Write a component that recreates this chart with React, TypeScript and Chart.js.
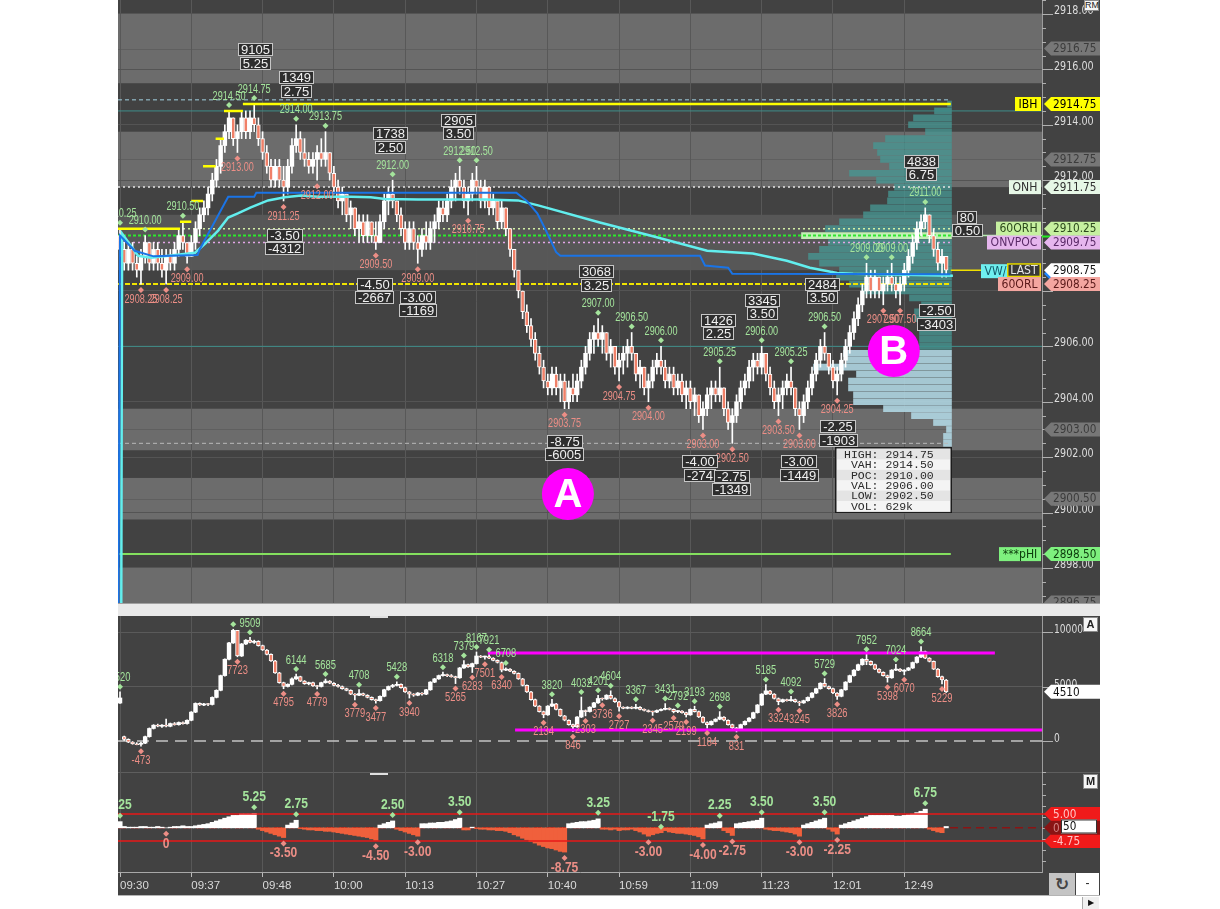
import React, { useEffect, useRef } from 'react';
import { Chart, registerables } from 'chart.js';

Chart.register(...registerables);

// ---------------- bar index axis ----------------
const X_MIN = -0.477;
const X_MAX = 219.84;
const SESSION_END = 198.1;
const timeLabels = ['09:30', '09:37', '09:48', '10:00', '10:13', '10:27', '10:40', '10:59', '11:09', '11:23', '12:01', '12:49'];
const timeTickIdx = [0, 17, 34, 51, 68, 85, 102, 119, 136, 153, 170, 187];

// ---------------- price panel ----------------
const PRICE_MIN = 2896.735;
const PRICE_MAX = 2918.505;
const priceTickValues = [2898, 2900, 2902, 2904, 2906, 2908, 2910, 2912, 2914, 2916, 2918];

// [open, high, low, close]
const priceBars = [
  [2910.00, 2910.25, 2909.25, 2909.50], [2909.50, 2909.75, 2908.75, 2909.00], [2909.00, 2909.75, 2908.75, 2909.50], [2909.50, 2909.75, 2908.75, 2909.00], [2909.00, 2909.25, 2908.50, 2908.75],
  [2908.75, 2909.50, 2908.25, 2909.25], [2909.25, 2910.00, 2909.00, 2909.75], [2909.75, 2909.75, 2908.75, 2909.00], [2909.00, 2909.75, 2908.75, 2909.50], [2909.50, 2909.75, 2908.75, 2909.00],
  // 10
  [2909.00, 2909.50, 2908.50, 2908.75], [2908.75, 2909.50, 2908.25, 2909.25], [2909.25, 2909.50, 2908.75, 2909.00], [2909.00, 2909.75, 2908.75, 2909.50], [2909.50, 2910.25, 2909.25, 2910.00],
  [2910.00, 2910.50, 2909.50, 2909.75], [2909.75, 2909.75, 2909.00, 2909.25], [2909.25, 2910.00, 2909.25, 2909.75], [2909.75, 2910.50, 2909.50, 2910.25], [2910.25, 2911.00, 2910.00, 2910.75],
  // 20
  [2910.75, 2911.25, 2910.50, 2911.00], [2911.00, 2911.75, 2910.75, 2911.50], [2911.50, 2912.25, 2911.25, 2912.00], [2912.00, 2912.75, 2911.75, 2912.50], [2912.50, 2913.50, 2912.25, 2913.25],
  [2913.25, 2914.00, 2913.00, 2913.75], [2913.75, 2914.50, 2913.50, 2914.25], [2914.25, 2914.25, 2913.25, 2913.50], [2913.50, 2914.00, 2913.00, 2913.75], [2913.75, 2914.50, 2913.50, 2914.25],
  // 30
  [2914.25, 2914.50, 2913.50, 2913.75], [2913.75, 2914.50, 2913.50, 2914.25], [2914.25, 2914.75, 2913.75, 2914.00], [2914.00, 2914.25, 2913.25, 2913.50], [2913.50, 2913.75, 2912.75, 2913.00],
  [2913.00, 2913.25, 2912.25, 2912.50], [2912.50, 2912.75, 2911.75, 2912.00], [2912.00, 2912.75, 2911.75, 2912.50], [2912.50, 2912.75, 2911.75, 2912.00], [2912.00, 2912.50, 2911.25, 2911.75],
  // 40
  [2911.75, 2912.75, 2911.50, 2912.50], [2912.50, 2913.50, 2912.25, 2913.25], [2913.25, 2914.00, 2913.00, 2913.50], [2913.50, 2913.75, 2912.75, 2913.00], [2913.00, 2913.50, 2912.50, 2912.75],
  [2912.75, 2913.00, 2912.25, 2912.50], [2912.50, 2913.00, 2912.25, 2912.75], [2912.75, 2913.25, 2912.00, 2913.00], [2913.00, 2913.50, 2912.50, 2912.75], [2912.75, 2913.75, 2912.50, 2913.00],
  // 50
  [2913.00, 2913.00, 2912.00, 2912.25], [2912.25, 2912.50, 2911.50, 2911.75], [2911.75, 2912.00, 2911.00, 2911.25], [2911.25, 2911.75, 2910.75, 2911.50], [2911.50, 2911.50, 2910.50, 2910.75],
  [2910.75, 2911.25, 2910.25, 2911.00], [2911.00, 2911.00, 2910.00, 2910.25], [2910.25, 2910.75, 2909.75, 2910.50], [2910.50, 2910.75, 2909.75, 2910.00], [2910.00, 2910.75, 2909.75, 2910.50],
  // 60
  [2910.50, 2910.50, 2909.75, 2910.00], [2910.00, 2910.50, 2909.50, 2909.75], [2909.75, 2910.75, 2909.75, 2910.50], [2910.50, 2911.50, 2910.25, 2911.25], [2911.25, 2911.75, 2910.75, 2911.50],
  [2911.50, 2912.00, 2911.00, 2911.25], [2911.25, 2911.25, 2910.50, 2910.75], [2910.75, 2911.00, 2910.00, 2910.25], [2910.25, 2910.50, 2909.50, 2909.75], [2909.75, 2910.50, 2909.50, 2910.25],
  // 70
  [2910.25, 2910.50, 2909.50, 2909.75], [2909.75, 2910.00, 2909.00, 2909.50], [2909.50, 2910.25, 2909.25, 2910.00], [2910.00, 2910.50, 2909.50, 2909.75], [2909.75, 2910.50, 2909.50, 2910.25],
  [2910.25, 2910.75, 2909.75, 2910.50], [2910.50, 2911.25, 2910.25, 2911.00], [2911.00, 2911.25, 2910.50, 2910.75], [2910.75, 2911.50, 2910.50, 2911.25], [2911.25, 2912.00, 2911.00, 2911.75],
  // 80
  [2911.75, 2912.25, 2911.25, 2912.00], [2912.00, 2912.50, 2911.50, 2911.75], [2911.75, 2912.00, 2911.00, 2911.25], [2911.25, 2911.75, 2910.75, 2911.50], [2911.50, 2912.25, 2911.25, 2912.00],
  [2912.00, 2912.50, 2911.50, 2911.75], [2911.75, 2912.00, 2911.00, 2911.25], [2911.25, 2912.00, 2911.00, 2911.75], [2911.75, 2911.75, 2910.75, 2911.00], [2911.00, 2911.50, 2910.75, 2911.25],
  // 90
  [2911.25, 2911.25, 2910.25, 2910.50], [2910.50, 2911.25, 2910.25, 2911.00], [2911.00, 2911.00, 2910.00, 2910.25], [2910.25, 2910.25, 2909.25, 2909.50], [2909.50, 2909.50, 2908.50, 2908.75],
  [2908.75, 2908.75, 2907.75, 2908.00], [2908.00, 2908.00, 2907.00, 2907.25], [2907.25, 2907.50, 2906.50, 2906.75], [2906.75, 2907.00, 2906.00, 2906.25], [2906.25, 2906.50, 2905.50, 2905.75],
  // 100
  [2905.75, 2906.00, 2905.00, 2905.25], [2905.25, 2905.50, 2904.50, 2904.75], [2904.75, 2905.00, 2904.25, 2904.50], [2904.50, 2905.25, 2904.25, 2905.00], [2905.00, 2905.25, 2904.25, 2904.50],
  [2904.50, 2905.00, 2904.00, 2904.75], [2904.75, 2905.00, 2903.75, 2904.00], [2904.00, 2904.75, 2903.75, 2904.50], [2904.50, 2905.00, 2904.00, 2904.25], [2904.25, 2905.00, 2904.00, 2904.75],
  // 110
  [2904.75, 2905.50, 2904.50, 2905.25], [2905.25, 2906.00, 2905.00, 2905.75], [2905.75, 2906.50, 2905.50, 2906.25], [2906.25, 2906.75, 2905.75, 2906.50], [2906.50, 2907.00, 2906.00, 2906.25],
  [2906.25, 2906.75, 2905.75, 2906.50], [2906.50, 2906.50, 2905.50, 2905.75], [2905.75, 2906.25, 2905.25, 2906.00], [2906.00, 2906.00, 2905.00, 2905.25], [2905.25, 2905.75, 2904.75, 2905.50],
  // 120
  [2905.50, 2906.00, 2905.00, 2905.75], [2905.75, 2906.25, 2905.25, 2906.00], [2906.00, 2906.50, 2905.50, 2905.75], [2905.75, 2905.75, 2904.75, 2905.00], [2905.00, 2905.50, 2904.50, 2905.25],
  [2905.25, 2905.25, 2904.25, 2904.50], [2904.50, 2905.00, 2904.00, 2904.75], [2904.75, 2905.50, 2904.50, 2905.25], [2905.25, 2905.75, 2905.00, 2905.50], [2905.50, 2906.00, 2905.00, 2905.25],
  // 130
  [2905.25, 2905.50, 2904.50, 2904.75], [2904.75, 2905.25, 2904.50, 2905.00], [2905.00, 2905.25, 2904.25, 2904.50], [2904.50, 2905.00, 2904.25, 2904.75], [2904.75, 2905.00, 2904.00, 2904.25],
  [2904.25, 2904.75, 2903.75, 2904.50], [2904.50, 2904.75, 2903.75, 2904.00], [2904.00, 2904.50, 2903.50, 2904.25], [2904.25, 2904.25, 2903.25, 2903.50], [2903.50, 2904.00, 2903.00, 2903.75],
  // 140
  [2903.75, 2904.50, 2903.50, 2904.25], [2904.25, 2904.75, 2903.75, 2904.50], [2904.50, 2904.75, 2904.00, 2904.25], [2904.25, 2905.25, 2904.00, 2904.50], [2904.50, 2904.50, 2903.50, 2903.75],
  [2903.75, 2904.00, 2903.00, 2903.25], [2903.25, 2903.75, 2902.50, 2903.50], [2903.50, 2904.25, 2903.25, 2904.00], [2904.00, 2904.75, 2903.75, 2904.50], [2904.50, 2905.00, 2904.25, 2904.75],
  // 150
  [2904.75, 2905.50, 2904.50, 2905.25], [2905.25, 2905.75, 2904.75, 2905.50], [2905.50, 2905.75, 2905.00, 2905.25], [2905.25, 2906.00, 2905.00, 2905.75], [2905.75, 2905.75, 2904.75, 2905.00],
  [2905.00, 2905.25, 2904.25, 2904.50], [2904.50, 2904.75, 2903.75, 2904.00], [2904.00, 2904.50, 2903.50, 2904.25], [2904.25, 2904.75, 2903.75, 2904.50], [2904.50, 2905.00, 2904.25, 2904.75],
  // 160
  [2904.75, 2905.25, 2904.25, 2904.50], [2904.50, 2904.50, 2903.50, 2903.75], [2903.75, 2904.00, 2903.00, 2903.50], [2903.50, 2904.25, 2903.25, 2904.00], [2904.00, 2904.75, 2903.75, 2904.50],
  [2904.50, 2905.25, 2904.25, 2905.00], [2905.00, 2905.75, 2904.75, 2905.50], [2905.50, 2906.25, 2905.25, 2906.00], [2906.00, 2906.50, 2905.50, 2905.75], [2905.75, 2905.75, 2905.00, 2905.25],
  // 170
  [2905.25, 2905.50, 2904.50, 2904.75], [2904.75, 2905.25, 2904.25, 2905.00], [2905.00, 2905.75, 2904.75, 2905.50], [2905.50, 2906.25, 2905.25, 2906.00], [2906.00, 2906.75, 2905.75, 2906.50],
  [2906.50, 2907.25, 2906.25, 2907.00], [2907.00, 2907.75, 2906.75, 2907.50], [2907.50, 2908.25, 2907.25, 2908.00], [2908.00, 2909.00, 2907.75, 2908.50], [2908.50, 2908.75, 2907.75, 2908.00],
  // 180
  [2908.00, 2908.75, 2907.75, 2908.50], [2908.50, 2908.50, 2907.75, 2908.00], [2908.00, 2908.50, 2907.50, 2908.25], [2908.25, 2908.75, 2908.00, 2908.50], [2908.50, 2909.00, 2908.00, 2908.25],
  [2908.25, 2908.50, 2907.75, 2908.00], [2908.00, 2908.50, 2907.50, 2908.25], [2908.25, 2909.00, 2908.00, 2908.75], [2908.75, 2909.50, 2908.50, 2909.25], [2909.25, 2910.00, 2909.00, 2909.75],
  // 190
  [2909.75, 2910.50, 2909.50, 2910.25], [2910.25, 2910.75, 2910.00, 2910.50], [2910.50, 2911.00, 2910.25, 2910.75], [2910.75, 2910.75, 2909.75, 2910.00], [2910.00, 2910.25, 2909.25, 2909.50],
  [2909.50, 2909.75, 2908.75, 2909.00], [2909.00, 2909.50, 2908.50, 2909.25], [2909.25, 2909.25, 2908.50, 2908.75],
];

// swing labels [bar, price, H/L]
const priceSwings: any[] = [
  [0, 2910.25, 'H'], [5, 2908.25, 'L'], [6, 2910.0, 'H'], [11, 2908.25, 'L'], [15, 2910.5, 'H'], [16, 2909.0, 'L'],
  [26, 2914.5, 'H'], [28, 2913.0, 'L'], [32, 2914.75, 'H'], [39, 2911.25, 'L'], [42, 2914.0, 'H'], [47, 2912.0, 'L'],
  [49, 2913.75, 'H'], [61, 2909.5, 'L'], [65, 2912.0, 'H'], [71, 2909.0, 'L'], [81, 2912.5, 'H'], [83, 2910.75, 'L'],
  [85, 2912.5, 'H'], [106, 2903.75, 'L'], [114, 2907.0, 'H'], [119, 2904.75, 'L'], [122, 2906.5, 'H'], [126, 2904.0, 'L'],
  [129, 2906.0, 'H'], [139, 2903.0, 'L'], [143, 2905.25, 'H'], [146, 2902.5, 'L'], [153, 2906.0, 'H'], [157, 2903.5, 'L'],
  [160, 2905.25, 'H'], [162, 2903.0, 'L'], [168, 2906.5, 'H'], [171, 2904.25, 'L'], [178, 2909.0, 'H'], [182, 2907.5, 'L'],
  [184, 2909.0, 'H'], [186, 2907.5, 'L'], [192, 2911.0, 'H'],
];

// leg boxes [bar, price, first text, second text]
const priceBoxes: any[] = [
  [32.4, 2916.70, '9105', '5.25'], [42, 2915.69, '1349', '2.75'], [64.6, 2913.67, '1738', '2.50'], [80.8, 2914.17, '2905', '3.50'],
  [39.3, 2910.02, '-3.50', '-4312'], [60.8, 2908.25, '-4.50', '-2667'], [71, 2907.78, '-3.00', '-1169'], [113.7, 2908.69, '3068', '3.25'],
  [106.1, 2902.58, '-8.75', '-6005'], [142.8, 2906.95, '1426', '2.25'], [153.3, 2907.67, '3345', '3.50'], [138.3, 2901.83, '-4.00', '-274'],
  [145.9, 2901.32, '-2.75', '-1349'], [161.9, 2901.83, '-3.00', '-1449'], [167.6, 2908.25, '2484', '3.50'], [171.2, 2903.09, '-2.25', '-1903'],
  [194.8, 2907.28, '-2.50', '-3403'], [191.2, 2912.69, '4838', '6.75'], [202, 2910.67, '80', '0.50'],
];

const statsAnchor = [170.5, 2902.37];
const statsRows = ['HIGH: 2914.75', ' VAH: 2914.50', ' POC: 2910.00', ' VAL: 2906.00', ' LOW: 2902.50', ' VOL: 629k'];
const circleMarks: any[] = [[106.8, 2900.67, 'A'], [184.5, 2905.83, 'B']];

// running initial-balance high [from bar, to bar, price]
const ibhSteps = [[X_MIN, 14.3, 2910.25], [14.3, 17.0, 2910.5], [17.0, 19.8, 2911.25], [19.8, 22.8, 2912.5], [22.8, 24.8, 2913.5], [24.8, 29.3, 2914.5], [29.3, SESSION_END, 2914.75]];

// VWAP lines [bar, price]
const vwapBlue = [
  [-0.45, 2893], [0, 2910.0], [3.5, 2909.45], [8, 2909.25], [18.5, 2909.3], [19, 2909.5], [25.8, 2911.4], [32, 2911.4], [32.5, 2911.55],
  [94.5, 2911.55], [97, 2911.25], [99.5, 2910.8], [101.5, 2910.2], [104, 2909.4], [105, 2909.27], [138.3, 2909.27], [139.5, 2908.92],
  [145, 2908.84], [146, 2908.62], [198, 2908.6],
];
const vwapCyan = [
  [0.25, 2893], [0.5, 2910.07], [4.3, 2909.27], [7.4, 2909.2], [17.9, 2909.38], [20.3, 2909.71], [23.4, 2910.18], [25.8, 2910.65],
  [28.1, 2910.8], [31.2, 2911.02], [35.3, 2911.27], [39.3, 2911.38], [43.2, 2911.45], [47.2, 2911.4], [55.1, 2911.4], [59.8, 2911.38],
  [63.2, 2911.32], [71.1, 2911.3], [78.9, 2911.3], [87, 2911.3], [94.9, 2911.27], [99.7, 2911.09], [114.4, 2910.47], [126.4, 2910.0],
  [140, 2909.45], [150.9, 2909.35], [159, 2909.09], [164.5, 2908.84], [171, 2908.65], [174.8, 2908.62], [198.6, 2908.55],
];

const levels = {
  profileTop: 2914.9, VAH: 2914.5, ONH: 2911.75, ORH60: 2910.25, POC: 2910.0, ONVPOC: 2909.75,
  LAST: 2908.75, ORL60: 2908.25, VAL: 2906.0, LOW: 2902.5, PHI: 2898.5,
};

// reference zones [low, high, centre]
const zones = [[2915.5, 2918.0, 2916.75], [2911.75, 2913.75, 2912.75], [2902.25, 2903.75, 2903.0], [2899.75, 2901.25, 2900.5], [2895.5, 2898.0, 2896.75]];
const onvpocZone = [2908.75, 2910.75];

// volume profile
const profilePrices = [
  2914.75, 2914.5, 2914.25, 2914.0, 2913.75, 2913.5, 2913.25, 2913.0, 2912.75, 2912.5,
  2912.25, 2912.0, 2911.75, 2911.5, 2911.25, 2911.0, 2910.75, 2910.5, 2910.25, 2910.0,
  2909.75, 2909.5, 2909.25, 2909.0, 2908.75, 2908.5, 2908.25, 2908.0, 2907.75, 2907.5,
  2907.25, 2907.0, 2906.75, 2906.5, 2906.25, 2906.0, 2905.75, 2905.5, 2905.25, 2905.0,
  2904.75, 2904.5, 2904.25, 2904.0, 2903.75, 2903.5, 2903.25, 2903.0, 2902.75, 2902.5,
];
const profileVolumes = [
  800, 3400, 7600, 8600, 5200, 13200, 15600, 14800, 14200, 12400,
  20400, 15000, 11400, 12600, 12800, 16200, 17600, 22400, 25200, 30000,
  24600, 26400, 28600, 26400, 22400, 23000, 20400, 18000, 8400, 6000,
  7400, 7400, 6400, 6400, 6400, 6400, 21600, 21000, 27600, 19000,
  20600, 20600, 19600, 19600, 13600, 8000, 3600, 1000, 1600, 1600,
];

const priceBadgeValues = [2916.75, 2914.75, 2912.75, 2911.75, 2910.25, 2909.75, 2908.62, 2908.75, 2908.25, 2903.0, 2900.5, 2898.5, 2896.75];
const priceBadgeKinds = ['ref', 'IBH', 'ref', 'ONH', '60ORH', 'ONVPOC', 'VWAP', 'LAST', '60ORL', 'ref', 'ref', '***pHI', 'ref'];

// ---------------- cumulative delta panel ----------------
const DELTA_MIN = -2844;
const DELTA_MAX = 11468;
const deltaTickValues = [0, 5000, 10000];
const deltaBars = [
  [3480, 4520, 3450, 3950], [400, 450, 50, 150], [150, 200, -150, -100], [-100, -50, -300, -250], [-250, -150, -350, -300],
  [-300, -100, -473, -200], [-200, 450, -250, 400], [400, 1200, 350, 1150], [1150, 1500, 1100, 1450], [1450, 1550, 1300, 1350],
  // 10
  [1350, 1500, 1250, 1450], [1450, 2000, 1300, 1350], [1350, 1650, 1300, 1600], [1600, 1700, 1450, 1500], [1500, 1750, 1450, 1700],
  [1700, 1750, 1550, 1600], [1600, 1950, 1550, 1900], [1900, 2700, 1850, 2650], [2650, 3500, 2600, 3450], [3450, 3500, 3250, 3300],
  // 20
  [3300, 3450, 3250, 3400], [3400, 3450, 3250, 3350], [3350, 4050, 3300, 4000], [4000, 4700, 3950, 4650], [4650, 6050, 4600, 6000],
  [6000, 7550, 5950, 7500], [7500, 9050, 7450, 9000], [9000, 10254, 8950, 10150], [10150, 10150, 7723, 7800], [7800, 8950, 7750, 8900],
  // 30
  [8900, 9300, 8850, 9250], [9250, 9509, 9000, 9050], [9050, 9250, 8950, 9150], [9150, 9200, 8700, 8750], [8750, 8800, 8300, 8350],
  [8350, 8400, 7900, 7950], [7950, 8000, 7300, 7350], [7350, 7400, 6200, 6250], [6250, 6300, 5300, 5350], [5350, 5400, 4795, 5000],
  // 40
  [5000, 5250, 4950, 5200], [5200, 5800, 5150, 5700], [5700, 6144, 5650, 5900], [5900, 5950, 5450, 5500], [5500, 5550, 5200, 5250],
  [5250, 5400, 5150, 5350], [5350, 5400, 5000, 5050], [5050, 5100, 4779, 5000], [5000, 5400, 4950, 5350], [5350, 5685, 5300, 5500],
  // 50
  [5500, 5550, 5250, 5300], [5300, 5350, 5050, 5100], [5100, 5200, 4950, 5000], [5000, 5050, 4750, 4800], [4800, 4850, 4600, 4650],
  [4650, 4700, 4250, 4300], [4300, 4350, 3779, 4200], [4200, 4708, 4150, 4350], [4350, 4400, 4150, 4200], [4200, 4250, 3950, 4000],
  // 60
  [4000, 4050, 3750, 3800], [3800, 3850, 3477, 3700], [3700, 4150, 3650, 4100], [4100, 4750, 4050, 4700], [4700, 5050, 4650, 5000],
  [5000, 5200, 4900, 5100], [5100, 5428, 5050, 5200], [5200, 5250, 4850, 4900], [4900, 4950, 4450, 4500], [4500, 4550, 3940, 4300],
  // 70
  [4300, 4350, 4100, 4200], [4200, 4450, 4150, 4400], [4400, 4450, 4200, 4300], [4300, 4750, 4250, 4700], [4700, 5450, 4650, 5400],
  [5400, 5750, 5350, 5700], [5700, 6050, 5650, 6000], [6000, 6318, 5950, 6100], [6100, 6150, 5900, 6000], [6000, 6100, 5850, 5900],
  // 80
  [5900, 5950, 5265, 5800], [5800, 6750, 5750, 6700], [6700, 7379, 6650, 7000], [7000, 7050, 6750, 6800], [6800, 7150, 6283, 7100],
  [7100, 8167, 7050, 7800], [7800, 7850, 7650, 7700], [7700, 7800, 7501, 7750], [7750, 7921, 7550, 7600], [7600, 7650, 7350, 7400],
  // 90
  [7400, 7450, 7150, 7200], [7200, 7250, 6340, 6500], [6500, 6708, 6450, 6600], [6600, 6650, 6350, 6400], [6400, 6450, 6150, 6200],
  [6200, 6250, 5650, 5700], [5700, 5750, 5050, 5100], [5100, 5150, 4450, 4500], [4500, 4550, 3750, 3800], [3800, 3850, 3150, 3200],
  // 100
  [3200, 3250, 2650, 2700], [2700, 2750, 2134, 2400], [2400, 3250, 2350, 3200], [3200, 3820, 3150, 3400], [3400, 3450, 2850, 2900],
  [2900, 2950, 2250, 2300], [2300, 2350, 1850, 1900], [1900, 1950, 1450, 1500], [1500, 1550, 846, 1300], [1300, 2250, 1250, 2200],
  // 110
  [2200, 4032, 2150, 2800], [2800, 2850, 2303, 2700], [2700, 3150, 2650, 3100], [3100, 3550, 3050, 3500], [3500, 4201, 3450, 3900],
  [3900, 3950, 3736, 3850], [3850, 4250, 3800, 4200], [4200, 4604, 3850, 3900], [3900, 3950, 3550, 3600], [3600, 3650, 2727, 3100],
  // 120
  [3100, 3150, 2950, 3000], [3000, 3150, 2950, 3100], [3100, 3150, 2950, 3000], [3000, 3367, 2950, 3100], [3100, 3150, 2850, 2900],
  [2900, 2950, 2750, 2800], [2800, 2850, 2650, 2700], [2700, 2750, 2345, 2650], [2650, 2850, 2600, 2800], [2800, 2950, 2750, 2900],
  // 130
  [2900, 3431, 2850, 3000], [3000, 3050, 2850, 2900], [2900, 2950, 2579, 2700], [2700, 2792, 2600, 2750], [2750, 2800, 2550, 2600],
  [2600, 2650, 2199, 2400], [2400, 2950, 2350, 2900], [2900, 3193, 2650, 2700], [2700, 2750, 2150, 2200], [2200, 2250, 1650, 1700],
  // 140
  [1700, 1750, 1184, 1500], [1500, 1850, 1450, 1800], [1800, 2050, 1750, 2000], [2000, 2698, 1950, 2200], [2200, 2250, 1850, 1900],
  [1900, 1950, 1450, 1500], [1500, 1550, 1150, 1200], [1200, 1250, 831, 1100], [1100, 1550, 1050, 1500], [1500, 1850, 1450, 1800],
  // 150
  [1800, 2150, 1750, 2100], [2100, 2650, 2050, 2600], [2600, 3350, 2550, 3300], [3300, 4350, 3250, 4300], [4300, 5185, 4250, 4600],
  [4600, 4650, 4250, 4300], [4300, 4350, 3850, 3900], [3900, 3950, 3324, 3600], [3600, 3850, 3550, 3800], [3800, 3850, 3650, 3700],
  // 160
  [3700, 4092, 3650, 3800], [3800, 3850, 3550, 3600], [3600, 3650, 3245, 3500], [3500, 3750, 3450, 3700], [3700, 4050, 3650, 4000],
  [4000, 4450, 3950, 4400], [4400, 4850, 4350, 4800], [4800, 5350, 4750, 5300], [5300, 5729, 4950, 5000], [5000, 5050, 4750, 4800],
  // 170
  [4800, 4850, 4350, 4400], [4400, 4450, 3826, 4100], [4100, 4750, 4050, 4700], [4700, 5450, 4650, 5400], [5400, 6050, 5350, 6000],
  [6000, 6550, 5950, 6500], [6500, 7050, 6450, 7000], [7000, 7550, 6950, 7500], [7500, 7952, 7000, 7300], [7300, 7350, 6950, 7000],
  // 180
  [7000, 7050, 6550, 6600], [6600, 6650, 6250, 6300], [6300, 6350, 5950, 6000], [6000, 6050, 5398, 5800], [5800, 6550, 5750, 6500],
  [6500, 7024, 6450, 6600], [6600, 6650, 6350, 6400], [6400, 6550, 6070, 6500], [6500, 6750, 6450, 6700], [6700, 7250, 6650, 7200],
  // 190
  [7200, 7750, 7150, 7700], [7700, 8664, 7650, 8200], [8200, 8250, 7550, 7600], [7600, 7650, 7250, 7300], [7300, 7350, 6550, 6600],
  [6600, 6650, 5850, 5900], [5900, 5950, 5229, 5600], [5600, 5650, 4450, 4510],
];
const deltaSwings: any[] = [
  [0, 4520, 'H'], [5, -473, 'L'], [27, 10254, 'H'], [28, 7723, 'L'], [31, 9509, 'H'], [39, 4795, 'L'], [42, 6144, 'H'], [47, 4779, 'L'],
  [49, 5685, 'H'], [56, 3779, 'L'], [57, 4708, 'H'], [61, 3477, 'L'], [66, 5428, 'H'], [69, 3940, 'L'], [77, 6318, 'H'], [80, 5265, 'L'],
  [82, 7379, 'H'], [84, 6283, 'L'], [85, 8167, 'H'], [87, 7501, 'L'], [88, 7921, 'H'], [91, 6340, 'L'], [92, 6708, 'H'], [101, 2134, 'L'],
  [103, 3820, 'H'], [108, 846, 'L'], [110, 4032, 'H'], [111, 2303, 'L'], [114, 4201, 'H'], [115, 3736, 'L'], [117, 4604, 'H'], [119, 2727, 'L'],
  [123, 3367, 'H'], [127, 2345, 'L'], [130, 3431, 'H'], [132, 2579, 'L'], [133, 2792, 'H'], [135, 2199, 'L'], [137, 3193, 'H'], [140, 1184, 'L'],
  [143, 2698, 'H'], [147, 831, 'L'], [154, 5185, 'H'], [157, 3324, 'L'], [160, 4092, 'H'], [162, 3245, 'L'], [168, 5729, 'H'], [171, 3826, 'L'],
  [178, 7952, 'H'], [183, 5398, 'L'], [185, 7024, 'H'], [187, 6070, 'L'], [191, 8664, 'H'], [196, 5229, 'L'],
];
const deltaChannel = [[87.7, 208.6, 8073], [94.2, 220.5, 1009]];
const deltaLast = 4510;

// ---------------- swing leg panel ----------------
const LEG_MIN = -15.94;
const LEG_MAX = 20.17;
const legLimits = [5.0, -4.75];
const swingLegs = [
  2.25, 0.5, 0.25, 0.25, 0.25, 0.5, 0.5, 0.25, 0.25, 0.5,
  0.25, 0, 0.25, 0.5, 0.5, 0.75, 0.5, 0.5, 0.75, 1.0,
  1.25, 1.5, 2.0, 2.5, 3.0, 3.5, 4.0, 4.5, 4.5, 5.0,
  5.0, 5.0, 5.25, -0.5, -1.0, -1.5, -2.0, -2.5, -3.0, -3.5,
  1.0, 1.75, 2.75, -0.25, -0.5, -0.75, -0.75, -1.0, -1.0, -1.25,
  -1.25, -1.5, -1.75, -2.0, -2.25, -2.5, -2.75, -3.0, -3.25, -3.5,
  -4.0, -4.5, 1.0, 1.5, 2.0, 2.5, -0.5, -1.0, -1.5, -2.0,
  -2.5, -3.0, 1.5, 1.5, 1.75, 1.75, 2.0, 2.0, 2.25, 2.5,
  3.0, 3.5, -0.75, -0.75, 0.25, -0.25, -0.5, -0.5, -0.75, -0.75,
  -1.0, -1.0, -1.25, -1.75, -2.5, -3.0, -3.75, -4.25, -5.0, -5.5,
  -6.25, -6.75, -7.25, -7.5, -8.0, -8.5, -8.75, 1.5, 1.75, 2.0,
  2.25, 2.25, 2.5, 2.75, 3.25, -0.5, -0.5, -0.75, -0.5, -1.0,
  -0.75, -0.75, -0.5, -1.0, -1.5, -2.25, -3.0, -2.5, -2.0, -1.75,
  -1.0, -1.5, -1.75, -2.0, -2.0, -2.25, -2.5, -2.75, -3.25, -4.0,
  1.0, 1.5, 1.75, 2.25, -1.0, -1.75, -2.75, 1.5, 1.75, 2.0,
  2.25, 2.5, 2.75, 3.5, -0.5, -0.75, -1.0, -1.0, -1.25, -1.5,
  -1.75, -2.25, -3.0, 1.0, 1.5, 2.0, 2.5, 3.0, 3.5, -0.5,
  -1.25, -2.25, 1.0, 1.5, 2.0, 2.5, 3.0, 3.5, 4.0, 4.5,
  4.5, 4.5, 4.5, 4.5, 4.5, 4.25, 4.25, 4.5, 4.75, 5.0,
  5.5, 6.0, 6.75, -0.5, -1.0, -1.5, -1.75, 0.5,
];
const legSwings: any[] = [
  [0, 2.25, 'H'], [11, 0, 'L'], [32, 5.25, 'H'], [39, -3.5, 'L'], [42, 2.75, 'H'], [61, -4.5, 'L'], [65, 2.5, 'H'], [71, -3.0, 'L'],
  [81, 3.5, 'H'], [106, -8.75, 'L'], [114, 3.25, 'H'], [126, -3.0, 'L'], [129, -1.75, 'H'], [139, -4.0, 'L'], [143, 2.25, 'H'],
  [146, -2.75, 'L'], [153, 3.5, 'H'], [162, -3.0, 'L'], [168, 3.5, 'H'], [171, -2.25, 'L'], [192, 6.75, 'H'],
];
const legLast = 0.5;

// ---------------- drawing helpers ----------------
const SANS = '"Liberation Sans", Arial, sans-serif';
const DEJA = '"DejaVu Sans", Verdana, sans-serif';
const MONO = '"Liberation Mono", "DejaVu Sans Mono", monospace';
const HI = '#a4e49c';
const LO = '#ec8e86';
const GRID = '#585858';

function drawText(ctx: any, s: string, x: number, y: number, font: string, color: string, align = 'left', sx = 1) {
  ctx.save();
  ctx.font = font;
  ctx.fillStyle = color;
  ctx.textAlign = align;
  ctx.textBaseline = 'middle';
  ctx.translate(x, y);
  ctx.scale(sx, 1);
  ctx.fillText(s, 0, 0);
  ctx.restore();
}
function diamond(ctx: any, x: number, y: number, r: number, color: string) {
  ctx.fillStyle = color;
  ctx.beginPath();
  ctx.moveTo(x, y - r); ctx.lineTo(x + r, y); ctx.lineTo(x, y + r); ctx.lineTo(x - r, y);
  ctx.closePath();
  ctx.fill();
}
function drawSwings(ctx: any, ca: any, xs: any, ys: any, swings: any[], fmt: (v: number) => string, font: string, sx: number, dOff: number, tOff: number) {
  swings.forEach(([i, v, t]) => {
    const px = xs.getPixelForValue(i);
    const py = ys.getPixelForValue(v);
    const hi = t === 'H';
    const col = hi ? HI : LO;
    diamond(ctx, px, py + (hi ? -dOff : dOff), 3, col);
    const ty = py + (hi ? -tOff : tOff);
    if (ty > ca.top + 4) drawText(ctx, fmt(v), px, ty, font, col, 'center', sx);
  });
}
function clipArea(ctx: any, ca: any) {
  ctx.beginPath();
  ctx.rect(ca.left, ca.top, ca.right - ca.left, ca.bottom - ca.top);
  ctx.clip();
}
function axisBadge(ctx: any, ax: number, py: number, text: string, bg: string, fg: string) {
  ctx.fillStyle = bg;
  ctx.beginPath();
  ctx.moveTo(ax + 2, py);
  ctx.lineTo(ax + 9, py - 7);
  ctx.lineTo(ax + 62, py - 7);
  ctx.lineTo(ax + 62, py + 7);
  ctx.lineTo(ax + 9, py + 7);
  ctx.closePath();
  ctx.fill();
  drawText(ctx, text, ax + 11, py + 0.5, `12.5px ${DEJA}`, fg, 'left', 0.84);
}
function tagBox(ctx: any, right: number, py: number, text: string, bg: string, fg: string, border = '') {
  const font = `12.5px ${DEJA}`;
  ctx.font = font;
  const w = Math.round(ctx.measureText(text).width * 0.87 + 7);
  ctx.fillStyle = bg;
  ctx.fillRect(right - w, py - 7, w, 14);
  if (border) {
    ctx.strokeStyle = border;
    ctx.lineWidth = 1.5;
    ctx.strokeRect(right - w + 0.75, py - 6.25, w - 1.5, 12.5);
  }
  drawText(ctx, text, right - w / 2, py + 0.5, font, fg, 'center', 0.87);
  return w;
}
function valueBoxPair(ctx: any, cx: number, cy: number, texts: string[]) {
  const font = `13px ${SANS}`;
  texts.forEach((s, k) => {
    ctx.font = font;
    const w = Math.round(ctx.measureText(s).width + 6);
    const top = Math.round(cy - 6.5 + k * 13.5);
    const left = Math.round(cx - w / 2);
    ctx.fillStyle = '#2e2e2e';
    ctx.fillRect(left, top, w, 13);
    ctx.strokeStyle = '#c6c6c6';
    ctx.lineWidth = 1;
    ctx.strokeRect(left + 0.5, top + 0.5, w - 1, 12);
    drawText(ctx, s, left + w / 2, top + 7, font, '#f0f0f0', 'center', 1);
  });
}
function drawStats(ctx: any, x0: number, y0: number) {
  const W = 117;
  const RH = 10.4;
  const H = statsRows.length * RH + 4;
  ctx.fillStyle = '#f4f4f4';
  ctx.fillRect(x0, y0, W, H);
  statsRows.forEach((s, k) => {
    if (k % 2 === 0) {
      ctx.fillStyle = '#e4e4e4';
      ctx.fillRect(x0 + 2, y0 + 2 + k * RH, W - 4, RH);
    }
    drawText(ctx, s, x0 + 9, y0 + 2 + k * RH + RH / 2 + 0.5, `11.5px ${MONO}`, '#2a2a2a', 'left', 1);
  });
  ctx.strokeStyle = '#1c1c1c';
  ctx.lineWidth = 1.5;
  ctx.strokeRect(x0 + 0.75, y0 + 0.75, W - 1.5, H - 1.5);
}
function flat(p: number, a: number, b: number, color: string, width: number, dash: number[] = [], order = 20) {
  return {
    type: 'line', data: [{ x: a, y: p }, { x: b, y: p }], borderColor: color, borderWidth: width, borderDash: dash,
    pointRadius: 0, fill: false, tension: 0, order,
  };
}
function candles(bars: number[][], downColor: string) {
  const wick = {
    type: 'bar', data: bars.map((b, i) => ({ x: i, y: [b[2], b[1]] })), backgroundColor: '#ffffff',
    barThickness: 1, grouped: false, order: 12,
  };
  const body = {
    type: 'bar', data: bars.map((b, i) => ({ x: i, y: [b[0], b[3]] })),
    backgroundColor: bars.map((b) => (b[3] >= b[0] ? '#ffffff' : downColor)),
    borderColor: '#ffffff', borderWidth: bars.map((b) => (b[3] >= b[0] ? 0 : 1)), borderSkipped: false,
    barThickness: 3.8, grouped: false, minBarLength: 1, order: 11,
  };
  return [wick, body];
}
const timeTicks = (s: any) => { s.ticks = timeTickIdx.map((v) => ({ value: v })); };
const baseOpts = {
  responsive: false, animation: false, events: [],
  layout: { padding: 0, autoPadding: false },
  plugins: { legend: { display: false }, tooltip: { enabled: false } },
};

const BADGE_STYLE: any = {
  ref: { bg: '#777777', fg: '#3c3c3c' },
  IBH: { bg: '#ffff00', fg: '#000000', tag: 'IBH' },
  ONH: { bg: '#e6f7e6', fg: '#303030', tag: 'ONH' },
  '60ORH': { bg: '#c6f0a0', fg: '#2c4a1c', tag: '60ORH' },
  ONVPOC: { bg: '#e6b6ee', fg: '#5a2a68', tag: 'ONVPOC' },
  VWAP: { bg: '#1e86ff', fg: '#ffffff' },
  LAST: { bg: '#ffffff', fg: '#111111' },
  '60ORL': { bg: '#f4a6a0', fg: '#5a1a1a', tag: '60ORL' },
  '***pHI': { bg: '#7ef07e', fg: '#0c3a0c', tag: '***pHI' },
};

// ---------------- plugins ----------------
const bandsPlugin = {
  id: 'bands',
  beforeDraw(chart: any) {
    const { ctx, chartArea: ca } = chart;
    const ys = chart.scales.y;
    ctx.save();
    clipArea(ctx, ca);
    const fillZone = (lo: number, hi: number, color: string) => {
      const y1 = ys.getPixelForValue(hi);
      const y2 = ys.getPixelForValue(lo);
      ctx.fillStyle = color;
      ctx.fillRect(ca.left, y1, ca.right - ca.left, y2 - y1);
    };
    fillZone(onvpocZone[0], onvpocZone[1], '#575757');
    zones.forEach(([lo, hi, mid]) => {
      fillZone(lo, hi, '#6c6c6c');
      const ym = Math.round(ys.getPixelForValue(mid)) + 0.5;
      ctx.strokeStyle = '#5f5f5f';
      ctx.lineWidth = 1;
      ctx.beginPath(); ctx.moveTo(ca.left, ym); ctx.lineTo(ca.right, ym); ctx.stroke();
    });
    ctx.restore();
  },
};

const mainOverlay = {
  id: 'mainOverlay',
  afterDraw(chart: any) {
    const { ctx, chartArea: ca } = chart;
    const xs = chart.scales.x;
    const ys = chart.scales.y;
    ctx.save();
    clipArea(ctx, ca);
    drawSwings(ctx, ca, xs, ys, priceSwings, (v) => v.toFixed(2), `13px ${SANS}`, 0.7, 6, 15);
    priceBoxes.forEach((b) => valueBoxPair(ctx, xs.getPixelForValue(b[0]), ys.getPixelForValue(b[1]), [b[2], b[3]]));
    drawStats(ctx, Math.round(xs.getPixelForValue(statsAnchor[0])), Math.round(ys.getPixelForValue(statsAnchor[1])));
    circleMarks.forEach(([i, p, letter]) => {
      const cx = xs.getPixelForValue(i);
      const cy = ys.getPixelForValue(p);
      ctx.fillStyle = '#ff00ff';
      ctx.beginPath(); ctx.arc(cx, cy, 26, 0, Math.PI * 2); ctx.fill();
      drawText(ctx, letter, cx, cy + 2, `bold 40px ${SANS}`, '#ffffff', 'center', 1);
    });
    ctx.restore();

    const ax = ca.right;
    ctx.save();
    ctx.strokeStyle = '#b0b0b0';
    ctx.lineWidth = 1;
    for (let k = 0; k <= 43; k++) {
      const v = 2897 + k * 0.5;
      const py = Math.round(ys.getPixelForValue(v)) + 0.5;
      const major = priceTickValues.indexOf(v) >= 0;
      ctx.beginPath(); ctx.moveTo(ax, py); ctx.lineTo(ax + (major ? 11 : 4), py); ctx.stroke();
    }
    priceTickValues.forEach((v) => drawText(ctx, v.toFixed(2), ax + 12, ys.getPixelForValue(v) - 3, `12px ${DEJA}`, '#dcdcdc', 'left', 0.8));
    // POC line through the axis area
    const pocY = Math.round(ys.getPixelForValue(levels.POC)) + 0.5;
    ctx.strokeStyle = '#22ee22'; ctx.lineWidth = 2;
    ctx.beginPath(); ctx.moveTo(ax, pocY); ctx.lineTo(ax + 62, pocY); ctx.stroke();
    priceBadgeValues.forEach((v, k) => {
      const kind = priceBadgeKinds[k];
      const st = BADGE_STYLE[kind];
      const py = ys.getPixelForValue(v);
      if (st.tag) tagBox(ctx, ax - 1, py, st.tag, st.bg, st.fg);
      if (kind === 'LAST') {
        const w = tagBox(ctx, ax - 1, py, 'LAST', '#383838', '#e6e6e6', '#e6d800');
        tagBox(ctx, ax - w + 2, py + 1, 'VW/', '#6ff0f0', '#145a6a');
        tagBox(ctx, ax - 1, py, 'LAST', '#383838', '#e6e6e6', '#e6d800');
      }
      axisBadge(ctx, ax, py, v.toFixed(2), st.bg, st.fg);
    });
    ctx.restore();
  },
};

const deltaOverlay = {
  id: 'deltaOverlay',
  afterDraw(chart: any) {
    const { ctx, chartArea: ca } = chart;
    const xs = chart.scales.x;
    const ys = chart.scales.y;
    ctx.save();
    clipArea(ctx, ca);
    drawSwings(ctx, ca, xs, ys, deltaSwings, (v) => String(v), `13px ${SANS}`, 0.72, 5, 14);
    ctx.restore();
    const ax = ca.right;
    ctx.save();
    ctx.strokeStyle = '#b0b0b0';
    ctx.lineWidth = 1;
    deltaTickValues.forEach((v) => {
      const py = Math.round(ys.getPixelForValue(v)) + 0.5;
      ctx.beginPath(); ctx.moveTo(ax, py); ctx.lineTo(ax + 11, py); ctx.stroke();
      drawText(ctx, String(v), ax + 12, py - 3, `12px ${DEJA}`, '#dcdcdc', 'left', 0.76);
    });
    const py = ys.getPixelForValue(deltaLast);
    axisBadge(ctx, ax, py, String(deltaLast), '#ffffff', '#111111');
    ctx.restore();
  },
};

const legOverlay = {
  id: 'legOverlay',
  afterDraw(chart: any) {
    const { ctx, chartArea: ca } = chart;
    const xs = chart.scales.x;
    const ys = chart.scales.y;
    ctx.save();
    clipArea(ctx, ca);
    drawSwings(ctx, { ...ca, top: ca.top - 20 }, xs, ys, legSwings, (v) => (v === 0 ? '0' : v.toFixed(2)), `bold 14px ${SANS}`, 0.86, 6, 16);
    ctx.restore();
    const ax = ca.right;
    ctx.save();
    ctx.strokeStyle = '#b0b0b0';
    ctx.lineWidth = 1;
    for (let v = -12; v <= 20; v += 4) {
      const py = Math.round(ys.getPixelForValue(v)) + 0.5;
      ctx.beginPath(); ctx.moveTo(ax, py); ctx.lineTo(ax + 4, py); ctx.stroke();
    }
    legLimits.forEach((v) => {
      const py = ys.getPixelForValue(v);
      ctx.strokeStyle = '#e81818'; ctx.lineWidth = 1.5;
      ctx.beginPath(); ctx.moveTo(ax, py); ctx.lineTo(ax + 10, py); ctx.stroke();
      axisBadge(ctx, ax, py, v.toFixed(2), '#f01a1a', '#ffc4c4');
    });
    axisBadge(ctx, ax, ys.getPixelForValue(0), '0', '#8a1414', '#d08080');
    const py = ys.getPixelForValue(legLast);
    ctx.fillStyle = '#ffffff';
    ctx.fillRect(ax + 19, py - 7, 36, 14);
    ctx.strokeStyle = '#333333'; ctx.lineWidth = 1;
    ctx.strokeRect(ax + 19.5, py - 6.5, 35, 13);
    drawText(ctx, '50', ax + 21, py + 0.5, `12.5px ${DEJA}`, '#111111', 'left', 0.84);
    ctx.restore();
  },
};

// ---------------- chart configs ----------------
function profileConfig(): any {
  return {
    type: 'bar',
    data: {
      datasets: [{
        data: profilePrices.map((p, k) => ({ x: profileVolumes[k], y: p })),
        backgroundColor: profilePrices.map((p) => (p === levels.POC ? '#c4eeb6' : p >= levels.VAL ? 'rgba(70,150,146,0.78)' : 'rgba(176,214,226,0.9)')),
        barThickness: 6, xAxisID: 'xv', yAxisID: 'y', borderWidth: 0,
      }],
    },
    options: {
      ...baseOpts,
      indexAxis: 'y',
      scales: {
        xv: { type: 'linear', reverse: true, min: -18100, max: 166700, display: false },
        x: {
          type: 'linear', min: X_MIN, max: X_MAX, position: 'bottom', offset: false, afterBuildTicks: timeTicks,
          ticks: { display: false }, grid: { color: GRID, drawTicks: false, offset: false }, border: { display: false },
          afterFit: (s: any) => { s.height = 0; },
        },
        y: {
          type: 'linear', position: 'right', min: PRICE_MIN, max: PRICE_MAX, offset: false,
          afterBuildTicks: (s: any) => { s.ticks = priceTickValues.map((v) => ({ value: v })); },
          ticks: { display: false }, grid: { color: '#545454', drawTicks: false, offset: false }, border: { display: false },
          afterFit: (s: any) => { s.width = 58; },
        },
      },
    },
    plugins: [bandsPlugin],
  };
}

function mainConfig(): any {
  const ibhData: any[] = [];
  ibhSteps.forEach(([a, b, p]) => { ibhData.push({ x: a, y: p }, { x: b, y: p }, { x: b, y: null }); });
  const datasets: any[] = [
    flat(levels.profileTop, X_MIN, SESSION_END, '#a2d2e2', 1, [4, 3]),
    flat(levels.VAH, X_MIN, X_MAX, '#3e8e8a', 1),
    flat(levels.ONH, X_MIN, SESSION_END, '#e6e6e6', 1.5, [2, 3]),
    flat(levels.ORH60, X_MIN, SESSION_END, '#d4f0a6', 1.5, [2, 3]),
    flat(levels.POC, X_MIN, SESSION_END, '#2ee82e', 2, [3, 2]),
    flat(levels.POC, SESSION_END, X_MAX, '#b6eeb0', 1.5),
    flat(levels.ONVPOC, X_MIN, SESSION_END, '#e2a6e6', 1.5, [2, 3]),
    flat(levels.LAST, SESSION_END, 212, '#f0e000', 1.5),
    flat(levels.ORL60, X_MIN, SESSION_END, '#f0e400', 2, [5, 2]),
    flat(levels.VAL, X_MIN, X_MAX, '#3e8e8a', 1),
    flat(levels.LOW, X_MIN, SESSION_END, '#b8b8b8', 1, [4, 3]),
    flat(levels.PHI, X_MIN, SESSION_END, '#84e05e', 2),
    ...candles(priceBars, '#f08068'),
    { type: 'line', data: vwapBlue.map(([i, p]) => ({ x: i, y: p })), borderColor: '#1a74e6', borderWidth: 2, pointRadius: 0, tension: 0, order: 5 },
    { type: 'line', data: vwapCyan.map(([i, p]) => ({ x: i, y: p })), borderColor: '#62eeee', borderWidth: 2.5, pointRadius: 0, tension: 0, order: 6 },
    { type: 'line', data: ibhData, borderColor: '#ffff00', borderWidth: 2.5, pointRadius: 0, tension: 0, spanGaps: false, order: 4 },
  ];
  return {
    type: 'bar',
    data: { datasets },
    options: {
      ...baseOpts,
      scales: {
        x: { type: 'linear', min: X_MIN, max: X_MAX, display: false, offset: false },
        y: {
          type: 'linear', position: 'right', min: PRICE_MIN, max: PRICE_MAX,
          ticks: { display: false }, grid: { display: false }, border: { display: true, color: '#9c9c9c' },
          afterFit: (s: any) => { s.width = 58; },
        },
      },
    },
    plugins: [mainOverlay],
  };
}

function deltaConfig(): any {
  const datasets: any[] = [
    { ...flat(0, X_MIN, X_MAX, '#c4c4c4', 1.5, [12, 7]), order: 20 },
    ...candles(deltaBars, '#f08068'),
    ...deltaChannel.map(([a, b, v]) => ({ ...flat(v, a, b, '#ff00ff', 3), order: 3 })),
  ];
  return {
    type: 'bar',
    data: { datasets },
    options: {
      ...baseOpts,
      scales: {
        x: {
          type: 'linear', min: X_MIN, max: X_MAX, offset: false, afterBuildTicks: timeTicks,
          ticks: { display: false }, grid: { color: GRID, drawTicks: false, offset: false }, border: { display: false },
          afterFit: (s: any) => { s.height = 0; },
        },
        y: {
          type: 'linear', position: 'right', min: DELTA_MIN, max: DELTA_MAX,
          afterBuildTicks: (s: any) => { s.ticks = deltaTickValues.map((v) => ({ value: v })); },
          ticks: { display: false },
          grid: { color: (c: any) => (c.tick && c.tick.value === 0 ? 'rgba(0,0,0,0)' : '#5a5a5a'), drawTicks: false },
          border: { display: true, color: '#9c9c9c' },
          afterFit: (s: any) => { s.width = 58; },
        },
      },
    },
    plugins: [deltaOverlay],
  };
}

function legConfig(): any {
  const datasets: any[] = [
    { ...flat(0, X_MIN, X_MAX, '#8a1414', 1.5, [8, 5]), order: 20 },
    {
      type: 'bar', data: swingLegs.map((v, i) => ({ x: i, y: v })),
      backgroundColor: swingLegs.map((v) => (v >= 0 ? '#ffffff' : '#f0603c')),
      barThickness: 4.4, grouped: false, borderWidth: 0, order: 10,
    },
    ...legLimits.map((v) => ({ ...flat(v, X_MIN, X_MAX, '#e81818', 1.5), order: 5 })),
  ];
  return {
    type: 'bar',
    data: { datasets },
    options: {
      ...baseOpts,
      scales: {
        x: {
          type: 'linear', min: X_MIN, max: X_MAX, offset: false, afterBuildTicks: timeTicks,
          ticks: {
            display: true, autoSkip: false, maxRotation: 0, align: 'start', padding: 2, color: '#dadada',
            font: { family: 'Liberation Sans', size: 11.5 },
            callback: (v: any) => { const k = timeTickIdx.indexOf(v); return k >= 0 ? timeLabels[k] : ''; },
          },
          grid: { color: GRID, drawTicks: true, tickLength: 5, tickColor: '#bcbcbc', offset: false },
          border: { display: true, color: '#a8a8a8' },
          afterFit: (s: any) => { s.height = 23; },
        },
        y: {
          type: 'linear', position: 'right', min: LEG_MIN, max: LEG_MAX,
          ticks: { display: false }, grid: { display: false }, border: { display: true, color: '#9c9c9c' },
          afterFit: (s: any) => { s.width = 58; },
        },
      },
    },
    plugins: [legOverlay],
  };
}

// ---------------- component ----------------
const abs = (left: number, top: number, width: number, height: number, extra: any = {}) => ({
  position: 'absolute', left, top, width, height, ...extra,
});
const smallBox = (left: number, top: number, txt: string) => (
  <div style={abs(left, top, 15, 15, {
    background: '#f6f6f6', border: '1px solid #8a8a8a', boxSizing: 'border-box', color: '#222',
    font: `bold 11px ${SANS}`, textAlign: 'center', lineHeight: '13px',
  }) as any}>{txt}</div>
);

export default function App() {
  const profRef = useRef<HTMLCanvasElement>(null);
  const mainRef = useRef<HTMLCanvasElement>(null);
  const deltaRef = useRef<HTMLCanvasElement>(null);
  const legRef = useRef<HTMLCanvasElement>(null);

  useEffect(() => {
    const charts = [
      new Chart(profRef.current as any, profileConfig()),
      new Chart(mainRef.current as any, mainConfig()),
      new Chart(deltaRef.current as any, deltaConfig()),
      new Chart(legRef.current as any, legConfig()),
    ];
    return () => charts.forEach((c) => c.destroy());
  }, []);

  return (
    <div style={abs(0, 0, 1220, 909, { background: '#ffffff', overflow: 'hidden' }) as any}>
      <div style={abs(118, 0, 982, 895, { background: '#424242' }) as any} />
      <canvas ref={profRef} width={982} height={603} style={abs(118, 0, 982, 603) as any} />
      <canvas ref={mainRef} width={982} height={603} style={abs(118, 0, 982, 603) as any} />
      <div style={abs(118, 603, 982, 13, { background: '#e9e9e9', borderTop: '1px solid #a0a0a0', boxSizing: 'border-box' }) as any} />
      <canvas ref={deltaRef} width={982} height={156} style={abs(118, 616, 982, 156) as any} />
      <div style={abs(118, 772, 982, 1, { background: '#5e5e5e' }) as any} />
      <canvas ref={legRef} width={982} height={123} style={abs(118, 772, 982, 123) as any} />
      <div style={abs(370, 616, 18, 2, { background: '#e0e0e0' }) as any} />
      <div style={abs(370, 773, 18, 2, { background: '#e0e0e0' }) as any} />
      <div style={abs(118, 895, 982, 14, { background: '#ffffff', borderTop: '1px solid #b4b4b4', boxSizing: 'border-box' }) as any} />
      <div style={abs(1084, 0, 15, 11, {
        background: '#f6f6f6', border: '1px solid #8a8a8a', boxSizing: 'border-box', color: '#222',
        font: `9px ${SANS}`, textAlign: 'center', lineHeight: '9px',
      }) as any}>RM</div>
      {smallBox(1083, 617, 'A')}
      {smallBox(1083, 774, 'M')}
      <div style={abs(1049, 873, 26, 22, {
        background: '#c4c4c4', color: '#444', font: `bold 17px ${DEJA}`, textAlign: 'center', lineHeight: '22px',
      }) as any}>↻</div>
      <div style={abs(1076, 873, 23, 22, {
        background: '#ffffff', color: '#222', font: `12px ${SANS}`, textAlign: 'center', lineHeight: '20px',
      }) as any}>-</div>
      <div style={abs(1082, 897, 16, 12, {
        background: '#f0f0f0', borderLeft: '1px solid #aaa', color: '#111', font: `8px ${SANS}`, textAlign: 'center', lineHeight: '12px',
      }) as any}>▶</div>
    </div>
  );
}
